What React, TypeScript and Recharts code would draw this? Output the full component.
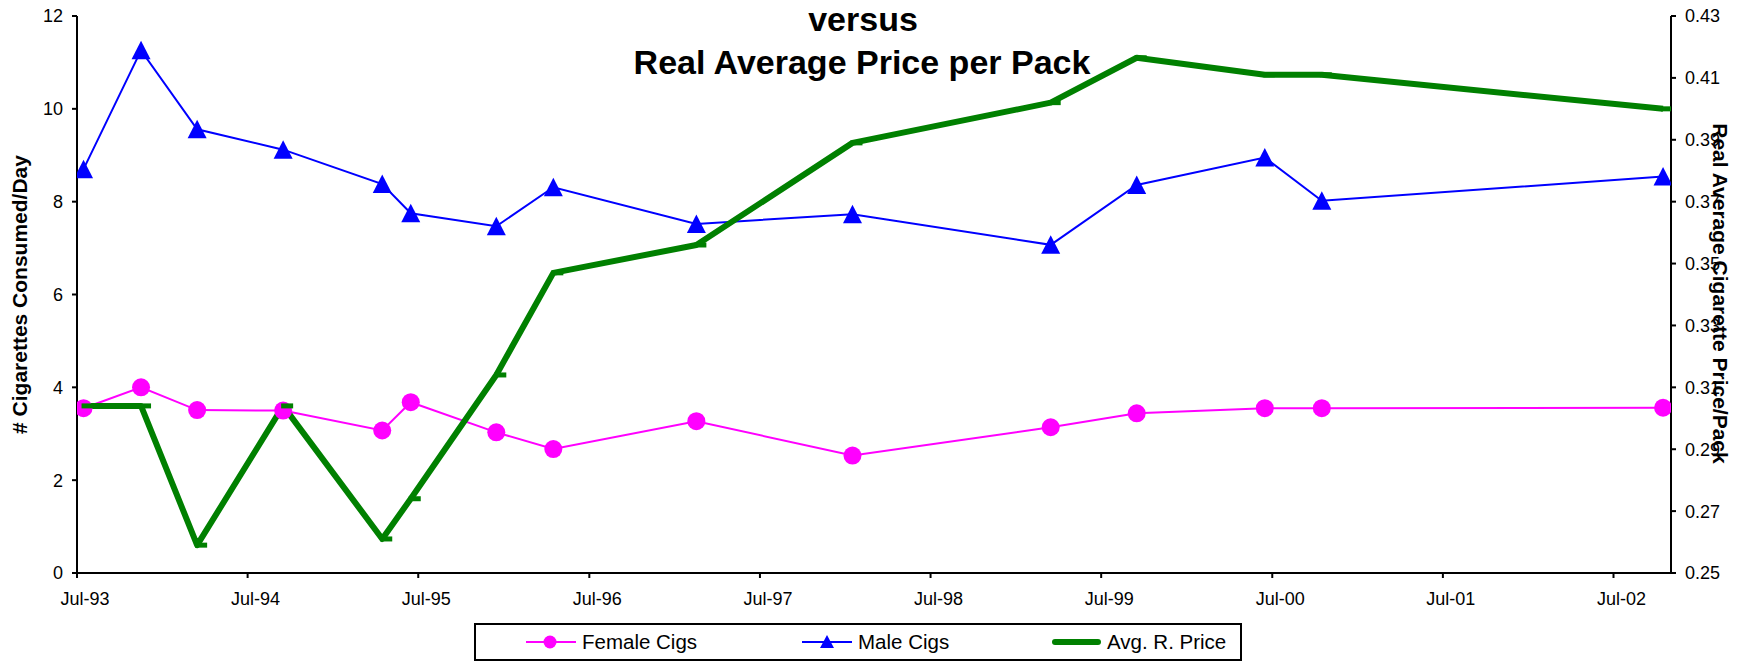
import React from "react";
import {
  LineChart,
  Line,
  XAxis,
  YAxis,
  Legend,
  Label,
  Customized,
} from "recharts";

// survey dates (mid-month)
const surveyDates = [
  "1993-07-15", "1993-11-15", "1994-03-15", "1994-09-15", "1995-04-15",
  "1995-06-15", "1995-12-15", "1996-04-15", "1997-02-15", "1998-01-15",
  "1999-03-15", "1999-09-15", "2000-06-15", "2000-10-15", "2002-10-15",
];
const femaleCigs = [3.55, 4.0, 3.51, 3.5, 3.07, 3.68, 3.03, 2.67, 3.27, 2.53, 3.14, 3.44, 3.55, 3.55, 3.56];
const maleCigs = [8.7, 11.26, 9.56, 9.12, 8.38, 7.75, 7.47, 8.31, 7.52, 7.73, 7.07, 8.36, 8.95, 8.02, 8.54];
const avgRealPrice = [0.304, 0.304, 0.259, 0.304, 0.261, 0.274, 0.314, 0.347, 0.356, 0.389, 0.402, 0.4165, 0.411, 0.411, 0.4];

const xTickDates = [
  "1993-07-01", "1994-07-01", "1995-07-01", "1996-07-01", "1997-07-01",
  "1998-07-01", "1999-07-01", "2000-07-01", "2001-07-01", "2002-07-01",
];
const xDomain = ["1993-07-01", "2002-11-01"];
const leftTicks = [0, 2, 4, 6, 8, 10, 12];
const rightTicks = [0.25, 0.27, 0.29, 0.31, 0.33, 0.35, 0.37, 0.39, 0.41, 0.43];

const FONT = "'Liberation Sans', Arial, sans-serif";
const FEMALE = "#ff00ff";
const MALE = "#0000ff";
const PRICE = "#008000";

const data = surveyDates.map((d, i) => ({
  t: Date.parse(d),
  female: femaleCigs[i],
  male: maleCigs[i],
  price: avgRealPrice[i],
}));

const fmtJul = (v: number) => "Jul-" + String(new Date(v).getUTCFullYear()).slice(2);

const CircleDot = (p: any) =>
  p.cx == null ? null : <circle key={`f${p.index}`} cx={p.cx} cy={p.cy} r={9} fill={FEMALE} />;

const TriangleDot = (p: any) =>
  p.cx == null ? null : (
    <path
      key={`m${p.index}`}
      d={`M${p.cx},${p.cy - 9.5} L${p.cx + 9.5},${p.cy + 9} L${p.cx - 9.5},${p.cy + 9} Z`}
      fill={MALE}
    />
  );

const DashDot = (p: any) =>
  p.cx == null ? null : (
    <rect key={`p${p.index}`} x={p.cx - 2} y={p.cy - 2.5} width={12} height={5} fill={PRICE} />
  );

const RightTitle = (props: any) => {
  const { x, y, width, height } = props.viewBox;
  const cx = x + width / 2 + 9.5;
  const cy = y + height / 2 - 1;
  return (
    <g>
      <rect x={cx - 7} y={cy - 176} width={15} height={352} fill="#fff" />
      <text
        x={cx}
        y={cy}
        transform={`rotate(90 ${cx} ${cy})`}
        textAnchor="middle"
        dominantBaseline="central"
        fontFamily={FONT}
        fontWeight="bold"
        fontSize={21}
        fill="#000"
      >
        Real Average Cigarette Price/Pack
      </text>
    </g>
  );
};

const ChartTitle = () => (
  <g fontFamily={FONT} fontWeight="bold" fontSize={34} fill="#000" textAnchor="middle">
    <text x={863} y={31}>versus</text>
    <text x={862} y={74}>Real Average Price per Pack</text>
  </g>
);

const LegendBox = () => {
  const item = (left: number, swatch: React.ReactNode, text: string) => (
    <div style={{ position: "absolute", left, top: 0, height: "100%", display: "flex", alignItems: "center" }}>
      <svg width={50} height={20} style={{ display: "block" }}>{swatch}</svg>
      <span style={{ marginLeft: 6 }}>{text}</span>
    </div>
  );
  return (
    <div
      style={{
        position: "relative",
        width: 768,
        height: 38,
        boxSizing: "border-box",
        border: "2px solid #000",
        background: "#fff",
        fontFamily: FONT,
        fontSize: 20.5,
        color: "#000",
      }}
    >
      {item(
        50,
        <g>
          <line x1={0} y1={10} x2={50} y2={10} stroke={FEMALE} strokeWidth={2} />
          <circle cx={24} cy={10} r={6.5} fill={FEMALE} />
        </g>,
        "Female Cigs"
      )}
      {item(
        326,
        <g>
          <line x1={0} y1={10} x2={50} y2={10} stroke={MALE} strokeWidth={2} />
          <path d="M25,3 L32,16 L18,16 Z" fill={MALE} />
        </g>,
        "Male Cigs"
      )}
      {item(
        575,
        <line x1={4} y1={10} x2={47} y2={10} stroke={PRICE} strokeWidth={6} strokeLinecap="round" />,
        "Avg. R. Price"
      )}
    </div>
  );
};

const tickStyle = { fontFamily: FONT, fontSize: 18, fill: "#000" };
const axisLine = { stroke: "#000", strokeWidth: 2 };

export default function App() {
  return (
    <div style={{ position: "absolute", left: 0, top: 0, width: 1750, height: 661, background: "#fff" }}>
      <LineChart width={1750} height={661} data={data} margin={{ top: 16, right: 0, bottom: 0, left: 0 }}>
        <XAxis
          dataKey="t"
          type="number"
          domain={xDomain.map((d) => Date.parse(d))}
          ticks={xTickDates.map((d) => Date.parse(d))}
          tickFormatter={fmtJul}
          tick={{ ...tickStyle, dx: 8 }}
          tickSize={5}
          tickMargin={14}
          axisLine={axisLine}
          tickLine={axisLine}
          height={50}
          allowDataOverflow
        />
        <YAxis
          yAxisId="left"
          domain={[0, 12]}
          ticks={leftTicks}
          tick={tickStyle}
          tickSize={5}
          tickMargin={9}
          axisLine={axisLine}
          tickLine={axisLine}
          width={77}
        >
          <Label
            value="# Cigarettes Consumed/Day"
            angle={-90}
            position="center"
            dx={-18.5}
            style={{ fontFamily: FONT, fontWeight: "bold", fontSize: 21, fill: "#000" }}
          />
        </YAxis>
        <YAxis
          yAxisId="right"
          orientation="right"
          domain={[0.25, 0.43]}
          ticks={rightTicks}
          tickFormatter={(v: number) => v.toFixed(2)}
          tick={tickStyle}
          tickSize={5}
          tickMargin={9}
          axisLine={axisLine}
          tickLine={axisLine}
          width={79}
        >
          <Label content={RightTitle} />
        </YAxis>
        <Line
          yAxisId="left"
          dataKey="female"
          name="Female Cigs"
          stroke={FEMALE}
          strokeWidth={2}
          dot={CircleDot}
          activeDot={false}
          isAnimationActive={false}
        />
        <Line
          yAxisId="left"
          dataKey="male"
          name="Male Cigs"
          stroke={MALE}
          strokeWidth={2}
          dot={TriangleDot}
          activeDot={false}
          isAnimationActive={false}
        />
        <Line
          yAxisId="right"
          dataKey="price"
          name="Avg. R. Price"
          stroke={PRICE}
          strokeWidth={6}
          strokeLinejoin="round"
          dot={DashDot}
          activeDot={false}
          isAnimationActive={false}
        />
        <Legend
          verticalAlign="bottom"
          content={LegendBox}
          wrapperStyle={{ left: 474, top: 623, width: 768, height: 38 }}
        />
        <Customized component={ChartTitle} />
      </LineChart>
    </div>
  );
}
